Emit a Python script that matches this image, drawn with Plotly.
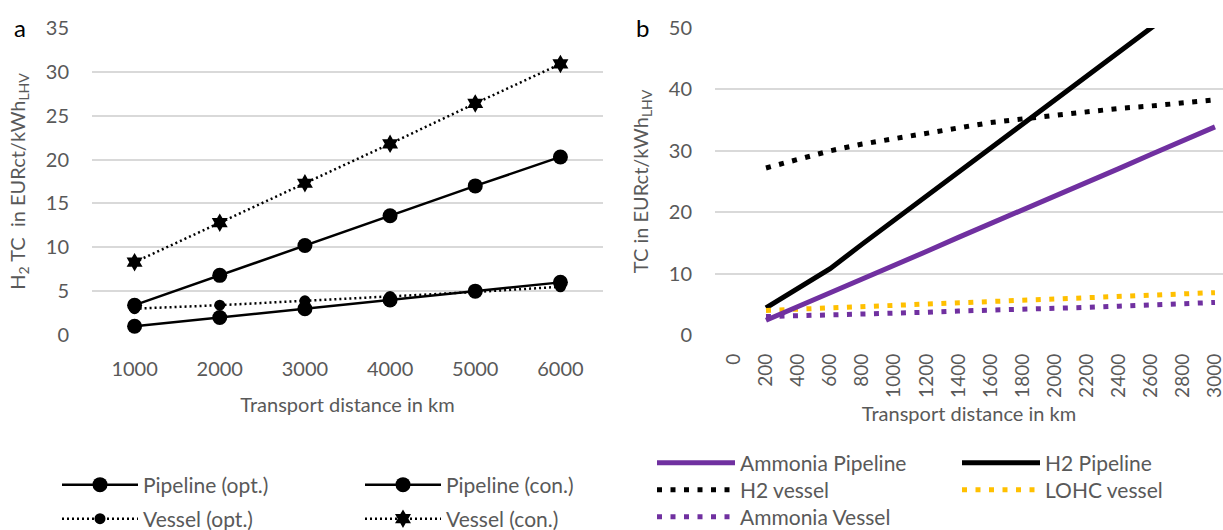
import plotly.graph_objects as go

W, H = 1223, 530
FONT = "Lato"
GREY = "#595959"
GRID = "#D9D9D9"

# ---------- panel a data ----------
dist_a = [1000, 2000, 3000, 4000, 5000, 6000]
pipe_opt = [1.0, 2.0, 3.0, 4.0, 5.0, 6.0]
pipe_con = [3.4, 6.8, 10.2, 13.6, 17.0, 20.3]
vessel_opt = [3.0, 3.4, 3.9, 4.4, 4.9, 5.5]
vessel_con = [8.3, 12.8, 17.3, 21.8, 26.4, 30.9]

# ---------- panel b data ----------
dist_b = [200, 400, 600, 800, 1000, 1200, 1400, 1600, 1800, 2000, 2200, 2400, 2600, 2800, 3000]
h2_pipeline = [4.4, 7.5, 10.8, 14.8, 18.7, 22.6, 26.5, 30.5, 34.4, 38.3, 42.2, 46.1, 50.0, 53.9, 57.8]
nh3_pipeline = [2.4, 4.6, 6.9, 9.1, 11.4, 13.6, 15.9, 18.1, 20.4, 22.6, 24.9, 27.1, 29.4, 31.6, 33.9]
h2_vessel = [27.2, 28.6, 30.0, 31.1, 32.0, 32.9, 33.8, 34.6, 35.2, 35.8, 36.4, 36.9, 37.3, 37.8, 38.3]
lohc_vessel = [4.0, 4.2, 4.4, 4.6, 4.8, 5.0, 5.2, 5.4, 5.6, 5.8, 6.0, 6.2, 6.5, 6.7, 6.9]
nh3_vessel = [3.0, 3.1, 3.3, 3.4, 3.6, 3.7, 3.9, 4.0, 4.2, 4.3, 4.5, 4.7, 4.9, 5.1, 5.3]
ticks_b = list(range(0, 3001, 200))


def px(x):
    return x / W


def py(y):
    return 1 - y / H


fig = go.Figure()

# panel a traces
fig.add_trace(go.Scatter(x=dist_a, y=pipe_opt, name="Pipeline (opt.)", mode="lines+markers",
                         line=dict(color="black", width=2.5), marker=dict(symbol="circle", size=15, color="black"),
                         xaxis="x", yaxis="y", legend="legend", showlegend=True))
fig.add_trace(go.Scatter(x=dist_a, y=vessel_opt, name="Vessel (opt.)", mode="lines+markers",
                         line=dict(color="black", width=2.5, dash="2px,3px"), marker=dict(symbol="circle", size=11, color="black"),
                         xaxis="x", yaxis="y", legend="legend2", showlegend=True))
fig.add_trace(go.Scatter(x=dist_a, y=pipe_con, name="Pipeline (con.)", mode="lines+markers",
                         line=dict(color="black", width=2.5), marker=dict(symbol="circle", size=15, color="black"),
                         xaxis="x", yaxis="y", legend="legend3", showlegend=True))
fig.add_trace(go.Scatter(x=dist_a, y=vessel_con, name="Vessel (con.)", mode="lines+markers",
                         line=dict(color="black", width=2.5, dash="2px,3px"), marker=dict(symbol="hexagram", size=14, color="black"),
                         xaxis="x", yaxis="y", legend="legend4", showlegend=True))

# panel b traces
PURPLE = "#7030A0"
ORANGE = "#FFC000"
DOT = "5px,8.5px"
fig.add_trace(go.Scatter(x=dist_b, y=h2_vessel, name="H2 vessel", mode="lines",
                         line=dict(color="black", width=5, dash=DOT),
                         xaxis="x2", yaxis="y2", legend="legend6", showlegend=True))
fig.add_trace(go.Scatter(x=dist_b, y=h2_pipeline, name="H2 Pipeline", mode="lines",
                         line=dict(color="black", width=5),
                         xaxis="x2", yaxis="y2", legend="legend8", showlegend=True))
fig.add_trace(go.Scatter(x=dist_b, y=lohc_vessel, name="LOHC vessel", mode="lines",
                         line=dict(color=ORANGE, width=5, dash=DOT),
                         xaxis="x2", yaxis="y2", legend="legend9", showlegend=True))
fig.add_trace(go.Scatter(x=dist_b, y=nh3_vessel, name="Ammonia Vessel", mode="lines",
                         line=dict(color=PURPLE, width=5, dash=DOT),
                         xaxis="x2", yaxis="y2", legend="legend7", showlegend=True))
fig.add_trace(go.Scatter(x=dist_b, y=nh3_pipeline, name="Ammonia Pipeline", mode="lines",
                         line=dict(color=PURPLE, width=5),
                         xaxis="x2", yaxis="y2", legend="legend5", showlegend=True))

tickfont = dict(family=FONT, size=20, color=GREY)
titlefont = dict(family=FONT, size=20, color=GREY)


def leg(x, y, iw):
    return dict(orientation="v", xanchor="left", yanchor="middle", bgcolor="rgba(0,0,0,0)",
                font=dict(family=FONT, size=21, color=GREY), x=px(x), y=py(y), itemwidth=iw,
                visible=True)


fig.update_layout(
    width=W, height=H,
    showlegend=True,
    margin=dict(l=0, r=0, t=0, b=0, autoexpand=False),
    paper_bgcolor="white", plot_bgcolor="white",
    font=dict(family=FONT, color=GREY),
    xaxis=dict(domain=[px(92), px(603)], range=[500, 6500], tickvals=dist_a,
               showgrid=False, zeroline=False, showline=False, ticks="",
               tickfont=tickfont, ticklabelstandoff=20, automargin=False,
               title=dict(text="Transport distance in km", font=titlefont, standoff=18),
               anchor="y"),
    yaxis=dict(domain=[py(335), py(28)], range=[0, 35], dtick=5,
               showgrid=True, gridcolor=GRID, gridwidth=2, zeroline=False, showline=False,
               tickfont=tickfont, ticklabelstandoff=22, automargin=False,
               title=dict(text="H<sub>2</sub> TC  in EURct/kWh<sub>LHV</sub>", font=titlefont, standoff=14),
               anchor="x"),
    xaxis2=dict(domain=[px(715), 1.0], range=[-118, 3050], tickvals=ticks_b,
                tickangle=-90, showgrid=False, zeroline=False, showline=False, ticks="",
                tickfont=dict(family=FONT, size=19, color=GREY), ticklabelstandoff=14,
                automargin=False, ticklabeloverflow="allow",
                title=dict(text="Transport distance in km", font=titlefont, standoff=10),
                anchor="y2"),
    yaxis2=dict(domain=[py(335), py(28)], range=[0, 50], dtick=10,
                showgrid=True, gridcolor=GRID, gridwidth=2, zeroline=False, showline=False,
                tickfont=tickfont, ticklabelstandoff=22, automargin=False,
                title=dict(text="TC in EURct/kWh<sub>LHV</sub>", font=titlefont, standoff=14),
                anchor="x2"),
    legend=leg(57, 485, 76),
    legend2=leg(57, 519, 76),
    legend3=leg(360, 485, 76),
    legend4=leg(360, 519, 76),
    legend5=leg(652, 463, 78),
    legend6=leg(652, 490, 78),
    legend7=leg(652, 517, 78),
    legend8=leg(957, 463, 78),
    legend9=leg(957, 490, 78),
    annotations=[
        dict(text="a", x=px(20), y=py(28), xref="paper", yref="paper", showarrow=False,
             xanchor="center", yanchor="middle",
             font=dict(family=FONT, size=24, color="black")),
        dict(text="b", x=px(642), y=py(28), xref="paper", yref="paper", showarrow=False,
             xanchor="center", yanchor="middle",
             font=dict(family=FONT, size=24, color="black")),
    ],
)

fig.write_html("out.html")
